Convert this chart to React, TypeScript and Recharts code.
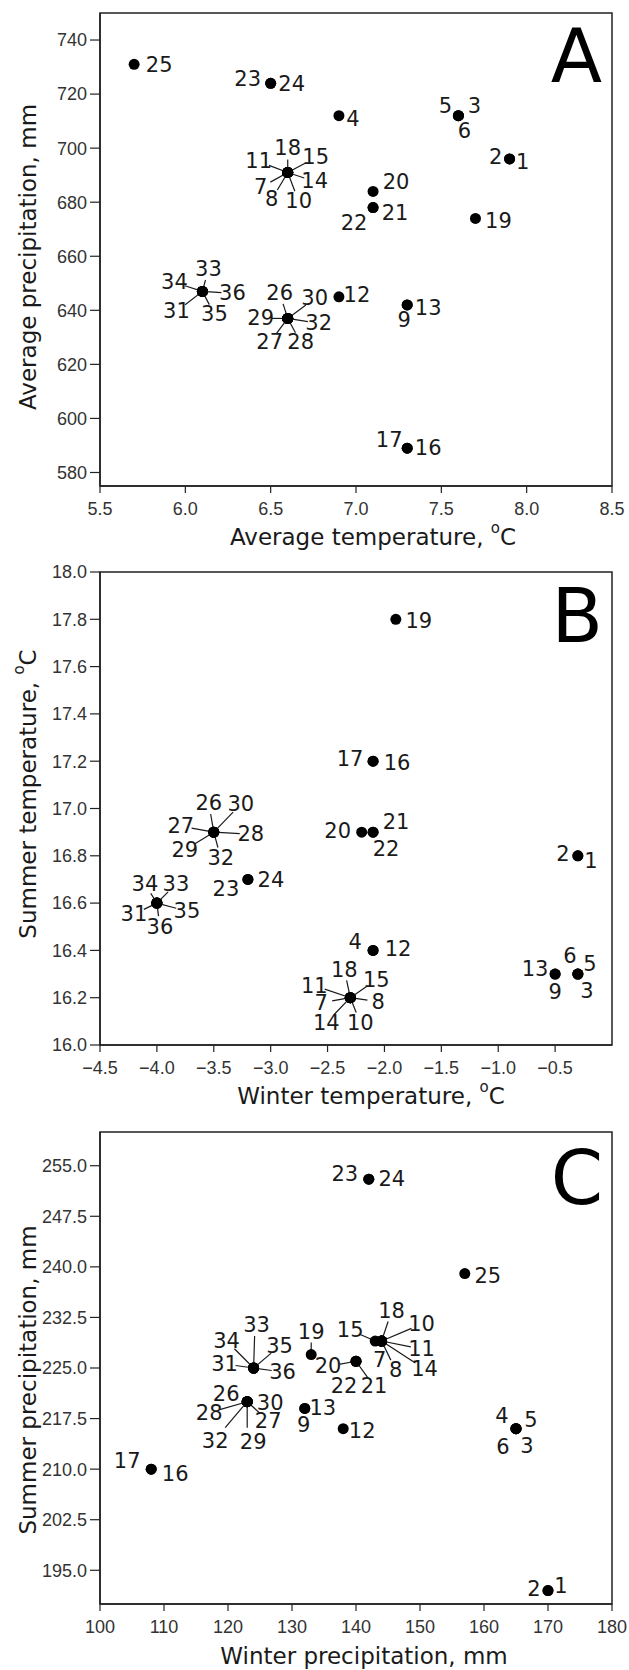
import React from 'react';
import { ScatterChart, Scatter, XAxis, YAxis, ReferenceArea } from 'recharts';

// site numbers 1..36
const SITES = [
  1, 2, 3, 4, 5, 6, 7, 8, 9, 10, 11, 12, 13, 14, 15, 16, 17, 18,
  19, 20, 21, 22, 23, 24, 25, 26, 27, 28, 29, 30, 31, 32, 33, 34, 35, 36,
];

// panel A
const AVG_TEMP = [
  7.9, 7.9, 7.6, 6.9, 7.6, 7.6, 6.6, 6.6, 7.3, 6.6, 6.6, 6.9, 7.3, 6.6, 6.6, 7.3, 7.3, 6.6,
  7.7, 7.1, 7.1, 7.1, 6.5, 6.5, 5.7, 6.6, 6.6, 6.6, 6.6, 6.6, 6.1, 6.6, 6.1, 6.1, 6.1, 6.1,
];
const AVG_PRECIP = [
  696, 696, 712, 712, 712, 712, 691, 691, 642, 691, 691, 645, 642, 691, 691, 589, 589, 691,
  674, 684, 678, 678, 724, 724, 731, 637, 637, 637, 637, 637, 647, 637, 647, 647, 647, 647,
];

// panel B (site 25 not shown)
const WINTER_TEMP = [
  -0.3, -0.3, -0.3, -2.1, -0.3, -0.3, -2.3, -2.3, -0.5, -2.3, -2.3, -2.1, -0.5, -2.3, -2.3, -2.1, -2.1, -2.3,
  -1.9, -2.2, -2.1, -2.1, -3.2, -3.2, null, -3.5, -3.5, -3.5, -3.5, -3.5, -4.0, -3.5, -4.0, -4.0, -4.0, -4.0,
];
const SUMMER_TEMP = [
  16.8, 16.8, 16.3, 16.4, 16.3, 16.3, 16.2, 16.2, 16.3, 16.2, 16.2, 16.4, 16.3, 16.2, 16.2, 17.2, 17.2, 16.2,
  17.8, 16.9, 16.9, 16.9, 16.7, 16.7, null, 16.9, 16.9, 16.9, 16.9, 16.9, 16.6, 16.9, 16.6, 16.6, 16.6, 16.6,
];

// panel C
const WINTER_PRECIP = [
  170, 170, 165, 165, 165, 165, 144, 144, 132, 144, 144, 138, 132, 144, 143, 108, 108, 144,
  133, 140, 140, 140, 142, 142, 157, 123, 123, 123, 123, 123, 124, 123, 124, 124, 124, 124,
];
const SUMMER_PRECIP = [
  192, 192, 216, 216, 216, 216, 229, 229, 219, 229, 229, 216, 219, 229, 229, 210, 210, 229,
  227, 226, 226, 226, 253, 253, 239, 220, 220, 220, 220, 220, 225, 220, 225, 225, 225, 225,
];

const A_X_TICKS = [5.5, 6.0, 6.5, 7.0, 7.5, 8.0, 8.5];
const A_Y_TICKS = [580, 600, 620, 640, 660, 680, 700, 720, 740];
const B_X_TICKS = [-4.5, -4.0, -3.5, -3.0, -2.5, -2.0, -1.5, -1.0, -0.5];
const B_Y_TICKS = [16.0, 16.2, 16.4, 16.6, 16.8, 17.0, 17.2, 17.4, 17.6, 17.8, 18.0];
const C_X_TICKS = [100, 110, 120, 130, 140, 150, 160, 170, 180];
const C_Y_TICKS = [195.0, 202.5, 210.0, 217.5, 225.0, 232.5, 240.0, 247.5, 255.0];

// label placement: [dx, dy, leader] in px from the dot; leader 1 = auto line, [x, y] = line end
type LabelPos = [number, number, (number | [number, number])?];

const LABELS_A: Record<number, LabelPos> = {
  1: [13, 3], 2: [-14, -2], 3: [16, -10], 4: [14, 3], 5: [-13, -10], 6: [6, 15],
  7: [-27, 15, 1], 8: [-16, 27, 1], 10: [11, 29, 1], 11: [-29, -11, 1], 14: [27, 9, 1], 15: [28, -15, 1], 18: [0, -24, 1],
  9: [-3, 15], 12: [18, -2], 13: [21, 3], 16: [21, 0], 17: [-18, -8], 19: [23, 3], 20: [23, -9],
  21: [22, 5], 22: [-19, 15], 23: [-23, -4], 24: [21, 1], 25: [25, 1],
  26: [-8, -25, 1], 27: [-18, 24, 1], 28: [13, 24, 1], 29: [-27, 0, 1], 30: [27, -20, 1], 32: [31, 5, 1],
  31: [-26, 20, 1], 33: [6, -22, 1], 34: [-28, -9, 1], 35: [12, 23, 1], 36: [30, 2, 1],
};

const LABELS_B: Record<number, LabelPos> = {
  1: [13, 5], 2: [-15, -2], 3: [9, 17], 5: [12, -10], 6: [-8, -18], 4: [-18, -8], 12: [25, -1],
  7: [-29, 5, 1], 8: [28, 4, 1], 10: [10, 25, 1], 11: [-36, -12, 1], 14: [-24, 25, 1], 15: [26, -18, 1], 18: [-6, -28, 1],
  9: [0, 18], 13: [-20, -5], 16: [24, 2], 17: [-23, -2], 19: [23, 2], 20: [-24, -1], 21: [23, -10],
  22: [13, 17], 23: [-22, 10], 24: [23, 1],
  26: [-5, -29, 1], 27: [-33, -6, 1], 28: [37, 2, 1], 29: [-29, 18, 1], 30: [27, -28, 1], 32: [7, 26, 1],
  31: [-23, 11, 1], 33: [19, -19, 1], 34: [-12, -19, 1], 35: [30, 8, 1], 36: [3, 24, 1],
};

const LABELS_C: Record<number, LabelPos> = {
  1: [13, -5], 2: [-14, -2], 3: [11, 17], 4: [-14, -13], 5: [15, -9], 6: [-13, 18],
  15: [-25, -11, 1], 18: [10, -30, 1], 10: [40, -17, 1], 11: [40, 8, 1], 7: [-2, 19], 8: [14, 29, 1], 14: [43, 28, 1],
  9: [-1, 17], 13: [18, 0], 12: [19, 2], 16: [24, 5], 17: [-24, -8], 19: [0, -23, 1],
  20: [-28, 5, 1], 21: [18, 25, 1], 22: [-12, 25], 23: [-24, -5], 24: [23, 0], 25: [23, 2],
  26: [-21, -8], 27: [21, 19, 1], 28: [-38, 11, 1], 29: [6, 40, [0, 26]], 30: [23, 1], 32: [-32, 39, [-22, 26]],
  31: [-29, -4, 1], 33: [3, -43, [1, -32]], 34: [-27, -27, 1], 35: [26, -22, 1], 36: [29, 4, 1],
};

const FONT = '"DejaVu Sans", Verdana, sans-serif';
const TICK_FONT = '"Liberation Sans", Arial, sans-serif';
const INK = '#1a1a1a';

const makeShape = (layout: Record<number, LabelPos>) => (props: any) => {
  const { cx, cy, payload } = props;
  const pos = layout[payload.site] || [12, 0];
  const [dx, dy, leader] = pos;
  let line = null;
  if (leader) {
    let ex = 0;
    let ey = 0;
    if (Array.isArray(leader)) {
      ex = leader[0];
      ey = leader[1];
    } else {
      const d = Math.hypot(dx, dy);
      const k = Math.max(0, (d - 11) / d);
      ex = dx * k;
      ey = dy * k;
    }
    line = <line x1={cx} y1={cy} x2={cx + ex} y2={cy + ey} stroke={INK} strokeWidth={1.2} />;
  }
  return (
    <g>
      {line}
      <circle cx={cx} cy={cy} r={5.5} fill="#000" />
      <text
        x={cx + dx}
        y={cy + dy}
        textAnchor="middle"
        dominantBaseline="central"
        fontFamily={FONT}
        fontSize={21}
        fill={INK}
      >
        {payload.site}
      </text>
    </g>
  );
};

const buildData = (xs: (number | null)[], ys: (number | null)[]) =>
  SITES.map((site, i) => ({ site, x: xs[i], y: ys[i] })).filter((d) => d.x != null && d.y != null);

const CHART_H = 560;
const PLOT_LEFT = 100;
const PLOT_RIGHT = 612;
const X_AXIS_H = 30;

interface PanelProps {
  top: number;
  plotTop: number;
  plotBottom: number;
  data: { site: number; x: number | null; y: number | null }[];
  xDomain: [number, number];
  yDomain: [number, number];
  xTicks: number[];
  yTicks: number[];
  xFmt: (v: number) => string;
  yFmt: (v: number) => string;
  layout: Record<number, LabelPos>;
}

const Panel: React.FC<PanelProps> = (p) => {
  const marginTop = p.plotTop - p.top;
  const marginBottom = CHART_H - (p.plotBottom - p.top) - X_AXIS_H;
  const tickStyle = { fill: '#333', fontSize: 18, fontFamily: TICK_FONT };
  return (
    <div style={{ position: 'absolute', left: 0, top: p.top }}>
      <ScatterChart
        width={629}
        height={CHART_H}
        margin={{ top: marginTop, right: 629 - PLOT_RIGHT, bottom: marginBottom, left: 0 }}
      >
        <XAxis
          type="number"
          dataKey="x"
          domain={p.xDomain}
          ticks={p.xTicks}
          interval={0}
          tickFormatter={p.xFmt}
          height={X_AXIS_H}
          tickSize={7}
          tickMargin={9}
          tick={tickStyle}
          axisLine={{ stroke: '#222', strokeWidth: 1.5 }}
          tickLine={{ stroke: '#222', strokeWidth: 1.2 }}
          allowDataOverflow
        />
        <YAxis
          type="number"
          dataKey="y"
          domain={p.yDomain}
          ticks={p.yTicks}
          interval={0}
          tickFormatter={p.yFmt}
          width={PLOT_LEFT}
          tickSize={10}
          tickMargin={3}
          tick={tickStyle}
          axisLine={{ stroke: '#222', strokeWidth: 1.5 }}
          tickLine={{ stroke: '#222', strokeWidth: 1.2 }}
          allowDataOverflow
        />
        <ReferenceArea
          x1={p.xDomain[0]}
          x2={p.xDomain[1]}
          y1={p.yDomain[0]}
          y2={p.yDomain[1]}
          fill="none"
          fillOpacity={0}
          stroke="#222"
          strokeWidth={1.5}
          ifOverflow="visible"
        />
        <Scatter data={p.data} fill="#000" isAnimationActive={false} shape={makeShape(p.layout)} />
      </ScatterChart>
    </div>
  );
};

const fmt1 = (v: number) => v.toFixed(1).replace('-', '\u2212');
const fmt0 = (v: number) => String(v);

const Titles: React.FC = () => {
  const t = { fontFamily: FONT, fontSize: 23, fill: INK };
  const sup = (
    <>
      <tspan fontSize={15} dy={-12}>o</tspan>
      <tspan dy={12}>C</tspan>
    </>
  );
  return (
    <svg
      width={629}
      height={1670}
      style={{ position: 'absolute', left: 0, top: 0, pointerEvents: 'none' }}
    >
      <text x={373} y={545} textAnchor="middle" {...t}>Average temperature, {sup}</text>
      <text x={371} y={1104} textAnchor="middle" {...t}>Winter temperature, {sup}</text>
      <text x={364} y={1664} textAnchor="middle" {...t}>Winter precipitation, mm</text>

      <text x={36} y={257} textAnchor="middle" transform="rotate(-90 36 257)" {...t}>
        Average precipitation, mm
      </text>
      <text x={36} y={794} textAnchor="middle" transform="rotate(-90 36 794)" {...t}>
        Summer temperature, {sup}
      </text>
      <text x={36} y={1380} textAnchor="middle" transform="rotate(-90 36 1380)" {...t}>
        Summer precipitation, mm
      </text>

      <text x={602} y={82} textAnchor="end" fontFamily={FONT} fontSize={75} fill="#000">A</text>
      <text x={603} y={642} textAnchor="end" fontFamily={FONT} fontSize={75} fill="#000">B</text>
      <text x={603} y={1204} textAnchor="end" fontFamily={FONT} fontSize={75} fill="#000">C</text>
    </svg>
  );
};

export default function App() {
  return (
    <div style={{ position: 'absolute', left: 0, top: 0, width: 629, height: 1670, background: '#fff' }}>
      <Panel
        top={0}
        plotTop={13}
        plotBottom={486}
        data={buildData(AVG_TEMP, AVG_PRECIP)}
        xDomain={[5.5, 8.5]}
        yDomain={[575, 750]}
        xTicks={A_X_TICKS}
        yTicks={A_Y_TICKS}
        xFmt={fmt1}
        yFmt={fmt0}
        layout={LABELS_A}
      />
      <Panel
        top={560}
        plotTop={572}
        plotBottom={1045}
        data={buildData(WINTER_TEMP, SUMMER_TEMP)}
        xDomain={[-4.5, 0]}
        yDomain={[16, 18]}
        xTicks={B_X_TICKS}
        yTicks={B_Y_TICKS}
        xFmt={fmt1}
        yFmt={fmt1}
        layout={LABELS_B}
      />
      <Panel
        top={1110}
        plotTop={1132}
        plotBottom={1604}
        data={buildData(WINTER_PRECIP, SUMMER_PRECIP)}
        xDomain={[100, 180]}
        yDomain={[190, 260]}
        xTicks={C_X_TICKS}
        yTicks={C_Y_TICKS}
        xFmt={fmt0}
        yFmt={fmt1}
        layout={LABELS_C}
      />
      <Titles />
    </div>
  );
}
